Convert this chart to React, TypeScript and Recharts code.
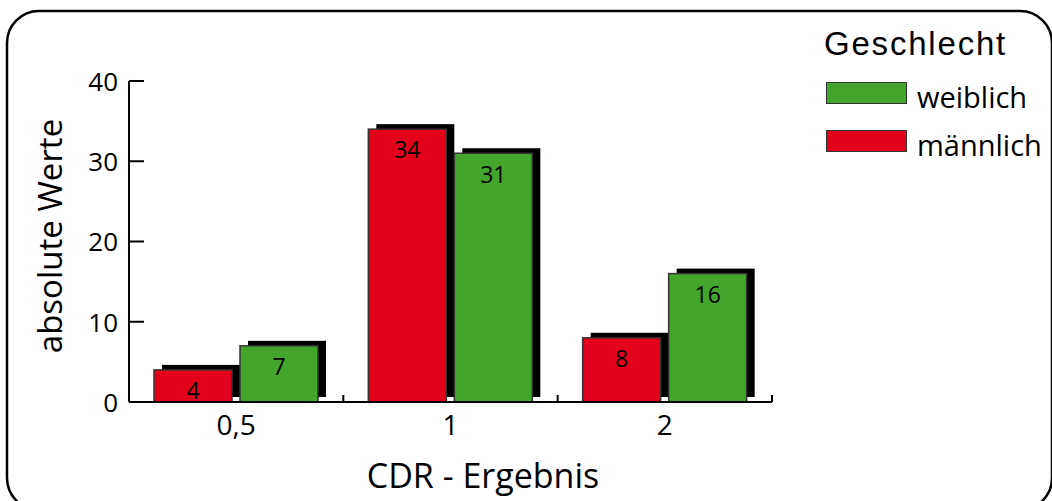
import { BarChart, Bar, XAxis, YAxis, Legend, LabelList, Customized } from "recharts";

const categories = ["0,5", "1", "2"];
const maennlich = [4, 34, 8];
const weiblich = [7, 31, 16];
const yTicks = [0, 10, 20, 30, 40];

const data = categories.map((cdr, i) => ({
  cdr,
  maennlich: maennlich[i],
  weiblich: weiblich[i],
}));

const RED = "#e2001a";
const GREEN = "#43a52b";
const FONT = '"Open Sans", sans-serif';

// bar with a black drop shadow up and to the right
const shadowBar = (fill: string) => (props: any) => {
  const { x, y, width, height } = props;
  return (
    <g>
      <rect x={x + 8} y={y - 5} width={width} height={height} fill="#000" />
      <rect x={x} y={y} width={width} height={height} fill={fill} stroke="#333" strokeWidth={1.5} />
    </g>
  );
};

const YTick = ({ x, y, payload }: any) => (
  <g>
    <line x1={x} x2={x + 15} y1={y} y2={y} stroke="#000" strokeWidth={2} />
    <text x={x - 11} y={y} dy="0.38em" textAnchor="end" fontSize={26} fontFamily={FONT} fill="#000">
      {payload.value}
    </text>
  </g>
);

const XTick = ({ x, y, payload }: any) => {
  const edge = x + (payload.offset ?? 0);
  return (
    <g>
      <line x1={edge} x2={edge} y1={y} y2={y - 7} stroke="#000" strokeWidth={2} />
      <text x={x} y={y + 33} textAnchor="middle" fontSize={28} fontFamily={FONT} fill="#000">
        {payload.value}
      </text>
    </g>
  );
};

const renderLegend = ({ payload }: any) => (
  <div style={{ position: "relative", width: 228, height: 140 }}>
    <div
      style={{
        position: "absolute",
        left: 0,
        top: -2,
        fontFamily: '"Liberation Sans", Arial, sans-serif',
        fontSize: 33,
        lineHeight: "33px",
        letterSpacing: 1.8,
        color: "#000",
      }}
    >
      Geschlecht
    </div>
    {[...(payload || [])].reverse().map((p: any, i: number) => (
      <div
        key={p.value}
        style={{ position: "absolute", left: 2, top: 53 + i * 48, height: 22, display: "flex", alignItems: "center" }}
      >
        <span
          style={{ width: 81, height: 22, boxSizing: "border-box", background: p.color, border: "1.5px solid #333" }}
        />
        <span
          style={{
            marginLeft: 10,
            position: "relative",
            top: 4,
            fontFamily: FONT,
            fontSize: 29,
            lineHeight: "22px",
            color: "#000",
            whiteSpace: "nowrap",
          }}
        >
          {p.value}
        </span>
      </div>
    ))}
  </div>
);

const Decor = () => (
  <g>
    <rect x={7} y={11} width={1045} height={499} rx={32} ry={32} fill="none" stroke="#000" strokeWidth={2.5} />
    <text transform="translate(62,236) rotate(-90)" textAnchor="middle" fontSize={33} fontFamily={FONT} fill="#000">
      absolute Werte
    </text>
    <text x={483} y={488} textAnchor="middle" fontSize={34} fontFamily={FONT} fill="#000">
      CDR - Ergebnis
    </text>
  </g>
);

export default function App() {
  return (
    <div style={{ position: "absolute", left: 0, top: 0, background: "#fff" }}>
      <BarChart
        width={1052}
        height={501}
        data={data}
        barGap={8}
        margin={{ top: 81, right: 280, bottom: 69, left: 69 }}
      >
        <XAxis
          dataKey="cdr"
          height={30}
          axisLine={{ stroke: "#000", strokeWidth: 2 }}
          tickLine={false}
          tickSize={0}
          tickMargin={0}
          tick={<XTick />}
          interval={0}
        />
        <YAxis
          width={60}
          domain={[0, 40]}
          ticks={yTicks}
          axisLine={{ stroke: "#000", strokeWidth: 2 }}
          tickLine={false}
          tickSize={0}
          tickMargin={0}
          tick={<YTick />}
        />
        <Legend
          layout="vertical"
          align="center"
          verticalAlign="middle"
          wrapperStyle={{ left: 824, top: 29, width: 228 }}
          content={renderLegend}
        />
        <Bar dataKey="maennlich" name="männlich" fill={RED} barSize={78} shape={shadowBar(RED)} isAnimationActive={false}>
          <LabelList dataKey="maennlich" position="insideTop" offset={13} fill="#000" fontSize={23} fontFamily={FONT} />
        </Bar>
        <Bar dataKey="weiblich" name="weiblich" fill={GREEN} barSize={78} shape={shadowBar(GREEN)} isAnimationActive={false}>
          <LabelList dataKey="weiblich" position="insideTop" offset={13} fill="#000" fontSize={23} fontFamily={FONT} />
        </Bar>
        <Customized component={Decor} />
      </BarChart>
    </div>
  );
}
